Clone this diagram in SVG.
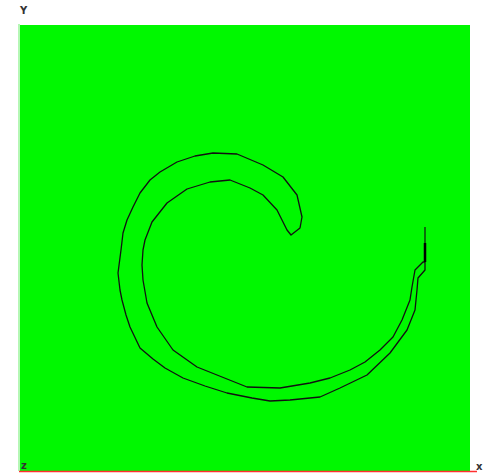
<svg xmlns="http://www.w3.org/2000/svg" width="501" height="475" viewBox="0 0 501 475">
<style>
.lbl{font-family:"DejaVu Sans","Liberation Sans",sans-serif;font-size:10px;fill:#333;font-weight:bold}
.curve{fill:none;stroke:#111;stroke-width:1.3;stroke-linejoin:round}
</style>
<rect width="501" height="475" fill="#fff"/>
<rect id="field" x="20" y="25" width="450" height="446" fill="#00f800"/>
<g id="axes">
<line x1="19" y1="24" x2="19" y2="471" stroke="#9cf59c" stroke-width="1.5"/>
<line x1="19" y1="471.5" x2="477" y2="471.5" stroke="#ff3030" stroke-width="1.5"/>
<text class="lbl" x="20" y="14">Y</text>
<text class="lbl" x="21" y="469">z</text>
<text class="lbl" x="476" y="470">x</text>
</g>
<g id="spiral">
<path class="curve" d="M291,235 L300,228 L302,217 L297,195 L283,177 L263,165 L237,154 L213,153 L195,156 L177,162 L160,172 L150,180 L140,193 L133,207 L127,220 L123,233 L121,250 L118,273 L120,290 L122,300 L126,315 L130,327 L140,348 L153,359 L165,368 L183,378 L205,386 L227,393 L252,398 L270,401 L290,400 L320,397 L340,388 L367,375 L390,353 L407,330 L415,310 L417,290 L418,278 L425,270 L425,262 L423,262 L415,270 L412,287 L410,300 L402,320 L393,337 L380,350 L365,362 L350,370 L330,378 L310,383 L280,388 L247,387 L222,377 L197,367 L173,350 L157,327 L147,303 L143,280 L142,265 L143,250 L145,240 L152,222 L167,203 L187,189 L210,182 L230,180 L250,188 L263,195 L277,210 L287,230 Z"/>
<line x1="425" y1="227" x2="425" y2="262" stroke="#111" stroke-width="1.2"/>
<line x1="425" y1="243" x2="425" y2="262" stroke="#000" stroke-width="2.5"/>
</g>
</svg>
